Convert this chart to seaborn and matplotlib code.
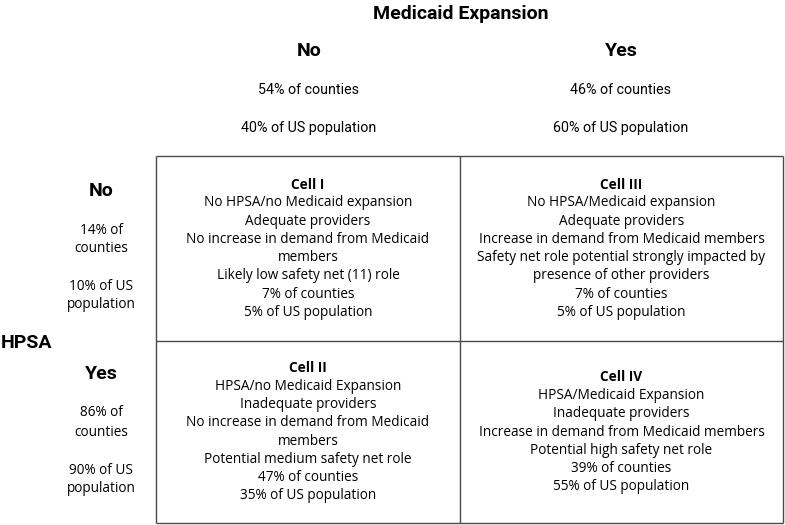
import matplotlib
matplotlib.use("Agg")
import matplotlib.pyplot as plt
import seaborn as sns

# ---- data ----
col_title = "Medicaid Expansion"
row_title = "HPSA"
col_labels = ["No", "Yes"]
col_counties = ["54%", "46%"]
col_population = ["40%", "60%"]
row_labels = ["No", "Yes"]
row_counties = ["14%", "86%"]
row_population = ["10%", "90%"]

cell_names = [["Cell I", "Cell III"], ["Cell II", "Cell IV"]]
cell_lines = [
    [["No HPSA/no Medicaid expansion", "Adequate providers",
      "No increase in demand from Medicaid", "members",
      "Likely low safety net (11) role"],
     ["No HPSA/Medicaid expansion", "Adequate providers",
      "Increase in demand from Medicaid members",
      "Safety net role potential strongly impacted by",
      "presence of other providers"]],
    [["HPSA/no Medicaid Expansion", "Inadequate providers",
      "No increase in demand from Medicaid", "members",
      "Potential medium safety net role"],
     ["HPSA/Medicaid Expansion", "Inadequate providers",
      "Increase in demand from Medicaid members",
      "Potential high safety net role"]],
]
cell_counties = [["7%", "7%"], ["47%", "39%"]]
cell_population = [["5%", "5%"], ["35%", "55%"]]

# ---- style ----
sns.set_theme(style="white")
COND = ["Roboto", "DejaVu Sans"]
REG = ["Open Sans", "DejaVu Sans"]
plt.rcParams["font.family"] = REG
plt.rcParams["text.color"] = "black"

fig = plt.figure(figsize=(7.85, 5.25), dpi=100)
ax = fig.add_axes([0, 0, 1, 1])
ax.set_xlim(0, 785)
ax.set_ylim(525, 0)
ax.axis("off")

# table geometry (pixels)
x_left, x_mid, x_right = 156, 460, 783
y_top, y_mid, y_bot = 156, 341, 523
col_cx = [(x_left + x_mid) / 2, (x_mid + x_right) / 2]
row_cy = [(y_top + y_mid) / 2, (y_mid + y_bot) / 2]
lc = "#4a4a4a"
ax.hlines([y_top, y_mid, y_bot], x_left, x_right, color=lc, lw=1.0)
ax.vlines([x_left, x_mid, x_right], y_top, y_bot, color=lc, lw=1.0)

HEAD = 14
# column header
ax.text(461, 14, col_title, ha="center", va="center", fontsize=HEAD,
        fontweight="bold", family=COND)
for j in range(2):
    cx = [309, 621][j]
    ax.text(cx, 51, col_labels[j], ha="center", va="center", fontsize=HEAD,
            fontweight="bold", family=COND)
    ax.text(cx, 90, f"{col_counties[j]} of counties", ha="center",
            va="center", fontsize=10.3, family=COND)
    ax.text(cx, 128, f"{col_population[j]} of US population", ha="center",
            va="center", fontsize=10.3, family=COND)

# row header
ax.text(26, 343, row_title, ha="center", va="center", fontsize=HEAD,
        fontweight="bold", family=COND)
row_top = [191, 374]
for i in range(2):
    y0 = row_top[i]
    ax.text(101, y0, row_labels[i], ha="center", va="center", fontsize=HEAD,
            fontweight="bold", family=COND)
    ax.text(101, y0 + 39, f"{row_counties[i]} of", ha="center", va="center",
            fontsize=9.8)
    ax.text(101, y0 + 58, "counties", ha="center", va="center", fontsize=9.8)
    ax.text(101, y0 + 96, f"{row_population[i]} of US", ha="center",
            va="center", fontsize=9.8)
    ax.text(101, y0 + 114, "population", ha="center", va="center",
            fontsize=9.8)

# cells
step = 18.2
for i in range(2):
    for j in range(2):
        lines = ([cell_names[i][j]] + cell_lines[i][j]
                 + [f"{cell_counties[i][j]} of counties",
                    f"{cell_population[i][j]} of US population"])
        n = len(lines)
        for k, t in enumerate(lines):
            y = row_cy[i] + (k - (n - 1) / 2) * step
            ax.text(col_cx[j], y, t, ha="center", va="center", fontsize=9.8,
                    fontweight="bold" if k == 0 else "normal")

fig.savefig("out.png", dpi=100, facecolor="white")
